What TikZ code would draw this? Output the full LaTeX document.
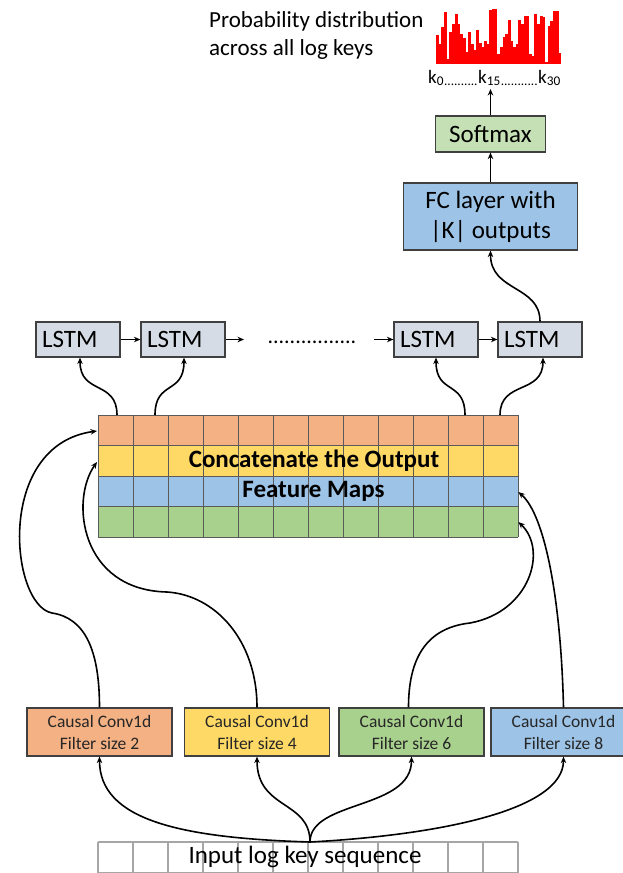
\documentclass[tikz,border=0pt]{standalone}
\usepackage{fontspec}
\setmainfont{Carlito}
\usetikzlibrary{arrows.meta,calc}
\definecolor{orangec}{HTML}{F4B183}
\definecolor{yellowc}{HTML}{FFD966}
\definecolor{bluec}{HTML}{9DC3E6}
\definecolor{greenc}{HTML}{A9D18E}
\definecolor{lstmc}{HTML}{D6DCE5}
\definecolor{softc}{HTML}{C5E0B4}
\definecolor{edgec}{HTML}{404040}
\definecolor{cellc}{HTML}{5A5A5A}
\definecolor{seqc}{HTML}{A6A6A6}
\newcommand\setfs[2]{\fontsize{#1}{#2}\selectfont}

\begin{document}
\begin{tikzpicture}[x=1pt,y=-1pt,
  arr/.style={-{Stealth[length=6.5pt,width=5.5pt]}, line width=1.6pt},
  box/.style={draw=edgec, line width=1.2pt, inner sep=0pt},
  lstmbox/.style={box, fill=lstmc, minimum height=35pt, text width=72pt,
    inner xsep=6pt, align=left, font=\setfs{25}{30}},
  convbox/.style={box, minimum width=145pt, minimum height=48pt, align=center,
    font=\setfs{17.5}{22}, text=black!85},
  cellline/.style={draw=cellc, line width=1pt},
  seqline/.style={draw=seqc, line width=1.2pt},
]
\useasboundingbox (0,0) rectangle (623,873);

% ---- output distribution ----
\node[anchor=north west, inner sep=0pt, align=left, font=\setfs{23}{28}] (title)
  at (209,11) {Probability distribution\\across all log keys};
\foreach \h [count=\i from 0] in {29,20,37,52,5,32,40,50,40,30,26,12,32,20,14,34,21,17,
  23,20,54,55,55,10,17,27,30,44,23,17,20,44,40,48,48,10,8,50,40,48,47,2,38,43,53,53,11}
  \fill[red] (436+2.66*\i,63.5) rectangle ++(2.96,-\h);
\node[anchor=base west, inner sep=0pt, font=\setfs{19}{19}] (klab) at (428,83)
  {k\textsubscript{0}\textsubscript{..........}k\textsubscript{15}\textsubscript{...........}k\textsubscript{30}};
\coordinate (ktip) at (490.5,89);

\node[box, fill=softc, minimum width=110pt, minimum height=36pt, font=\setfs{25}{30}]
  (soft) at (490.5,134) {Softmax};
\node[box, fill=bluec, minimum width=174pt, minimum height=67pt, align=center,
  font=\setfs{25}{30}] (fc) at (490.5,216.5) {FC layer with\\|K| outputs};
\draw[arr] (soft.north) -- (ktip);
\draw[arr] (fc.north) -- (soft.south);

% ---- LSTM chain ----
\node[lstmbox] (l1) at (78,339.5) {LSTM};
\node[lstmbox] (l2) at (183,339.5) {LSTM};
\node[lstmbox] (l3) at (436,339.5) {LSTM};
\node[lstmbox] (l4) at (540,339.5) {LSTM};
\coordinate (ch1) at (244,339.5);
\coordinate (ch2) at (374,339.5);
\node[inner sep=0pt, font=\setfs{22}{22}] (dots) at (312,342) {................};
\draw[arr] (l1.east) -- (l2.west);
\draw[arr] (l2.east) -- (ch1);
\draw[arr] (ch2) -- (l3.west);
\draw[arr] (l3.east) -- (l4.west);
\draw[arr] (l4.north) .. controls (540,285) and (490.5,292) .. (fc.south);

% ---- concatenated feature maps ----
\foreach \c [count=\r from 0] in {orangec,yellowc,bluec,greenc}
  \fill[\c] (98,415+30.5*\r) rectangle ++(420,30.5);
\foreach \k in {0,...,12} \draw[cellline] (98+35*\k,415) -- ++(0,122);
\foreach \r in {0,...,4} \draw[cellline] (98,415+30.5*\r) -- ++(420,0);
\node[inner sep=0pt, minimum width=420pt, minimum height=122pt, anchor=north west]
  (fmap) at (98,415) {};
\node[font=\bfseries\setfs{25}{30}, inner sep=0pt] (cat1) at (314,461) {Concatenate the Output};
\node[font=\bfseries\setfs{25}{30}, inner sep=0pt] (cat2) at (313.5,491) {Feature Maps};

\draw[arr] ($(fmap.north west)+(19,0)$) .. controls (117,380) and (80,395) .. ($(l1.south)+(2,0)$);
\draw[arr] ($(fmap.north west)+(57,0)$) .. controls (155,380) and (184,395) .. ($(l2.south)+(1,0)$);
\draw[arr] ($(fmap.north west)+(367,0)$) .. controls (465,380) and (436,395) .. (l3.south);
\draw[arr] ($(fmap.north west)+(402,0)$) .. controls (500,380) and (543,395) .. ($(l4.south)+(3,0)$);

% ---- causal convolutions ----
\node[convbox, fill=orangec] (c1) at (99.5,732) {Causal Conv1d\\Filter size 2};
\node[convbox, fill=yellowc] (c2) at (257,732) {Causal Conv1d\\Filter size 4};
\node[convbox, fill=greenc] (c3) at (411.5,732) {Causal Conv1d\\Filter size 6};
\node[convbox, fill=bluec] (c4) at (563.5,732) {Causal Conv1d\\Filter size 8};

\draw[arr] (c1.north) .. controls (99.5,650) and (85,618) .. (52,613)
  .. controls (10,605) and (-5,445) .. ($(fmap.north west)+(-1,16)$);
\draw[arr] (c2.north) .. controls (257,640) and (215,595) .. (167,592)
  .. controls (80,590) and (70,500) .. ($(fmap.north west)+(-1,47)$);
\draw[arr] ($(c3.north)+(-3,0)$) .. controls (408.5,660) and (425,628) .. (470,623)
  .. controls (530,612) and (548,550) .. ($(fmap.north east)+(0,107)$);
\draw[arr] (c4.north) .. controls (561,600) and (545,515) .. ($(fmap.north east)+(0,77)$);

% ---- input sequence ----
\node[inner sep=0pt, minimum width=420pt, minimum height=30.5pt, anchor=north west]
  (inseq) at (98,842) {};
\foreach \k in {0,...,12} \draw[seqline] (98+35*\k,842) -- ++(0,30.5);
\draw[seqline] (98,842) -- ++(420,0) (98,872.5) -- ++(420,0);
\node[font=\setfs{25}{30}, inner sep=0pt] (inlab) at (305,857) {Input log key sequence};
\coordinate (fan) at ($(inseq.north west)+(212,0)$);

\draw[arr] (fan) .. controls (180,838) and (99.5,820) .. (c1.south);
\draw[arr] (fan) .. controls (310,800) and (257,810) .. (c2.south);
\draw[arr] (fan) .. controls (310,800) and (411.5,810) .. (c3.south);
\draw[arr] (fan) .. controls (440,835) and (563.5,810) .. (c4.south);
\end{tikzpicture}
\end{document}
